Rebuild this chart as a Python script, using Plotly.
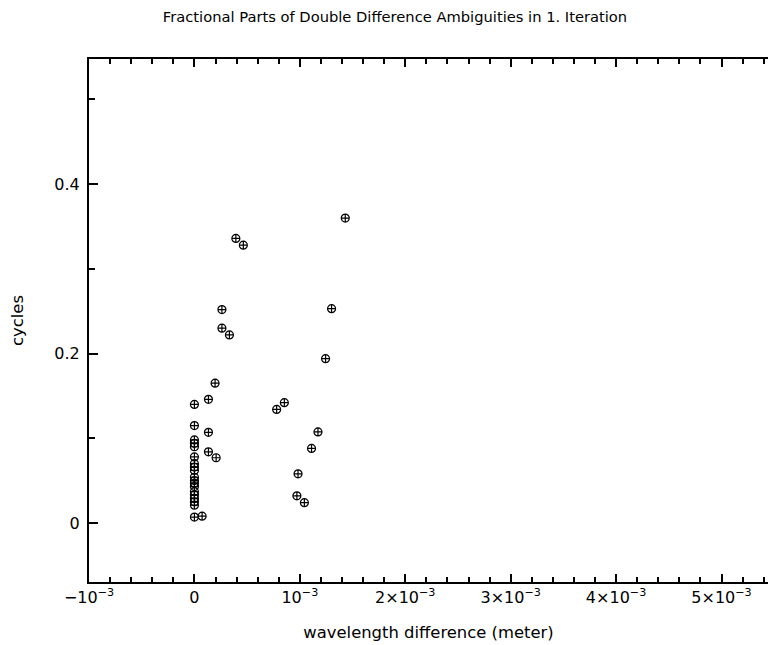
import plotly.graph_objects as go

# Wavelength difference (meter) and fractional part (cycles)
x_vals = [
    0.0, 0.0, 0.0, 0.0, 0.0, 0.0, 0.0, 0.0, 0.0, 0.0,
    0.0, 0.0, 0.0, 0.0, 0.0, 0.0, 0.0, 0.0, 0.0,
    0.133e-3, 0.133e-3, 0.133e-3, 0.206e-3, 0.073e-3, 0.196e-3,
    0.261e-3, 0.261e-3, 0.332e-3, 0.393e-3, 0.464e-3,
    1.431e-3, 1.301e-3, 1.244e-3, 0.853e-3, 0.780e-3,
    1.172e-3, 1.111e-3, 0.983e-3, 0.972e-3, 1.043e-3,
]
y_vals = [
    0.140, 0.115, 0.098, 0.094, 0.090, 0.078, 0.070, 0.066, 0.062, 0.054,
    0.050, 0.047, 0.043, 0.037, 0.033, 0.029, 0.025, 0.021, 0.007,
    0.146, 0.107, 0.084, 0.077, 0.008, 0.165,
    0.252, 0.230, 0.222, 0.336, 0.328,
    0.360, 0.253, 0.194, 0.142, 0.134,
    0.1075, 0.088, 0.058, 0.032, 0.024,
]

x_tickvals = [-1e-3, 0, 1e-3, 2e-3, 3e-3, 4e-3, 5e-3]
x_ticktext = ["\u221210<sup>\u22123</sup>", "0", "10<sup>\u22123</sup>",
              "2\u00d710<sup>\u22123</sup>", "3\u00d710<sup>\u22123</sup>",
              "4\u00d710<sup>\u22123</sup>", "5\u00d710<sup>\u22123</sup>"]
y_tickvals = [0, 0.2, 0.4]
y_ticktext = ["0", "0.2", "0.4"]

FONT = "DejaVu Sans"

fig = go.Figure()
fig.add_trace(go.Scatter(
    x=x_vals, y=y_vals, mode="markers",
    marker=dict(symbol="circle-cross-open", size=8, color="black",
                line=dict(color="black", width=1.2)),
    showlegend=False,
))

fig.update_layout(
    width=768, height=645,
    margin=dict(l=89, r=0, t=59, b=63),
    paper_bgcolor="white", plot_bgcolor="white",
    font=dict(family=FONT, color="black", size=16),
    title=dict(text="Fractional Parts of Double Difference Ambiguities in 1. Iteration",
               font=dict(family=FONT, size=14.7, color="black"),
               x=395 / 768, xanchor="center", xref="container",
               y=1 - 17 / 645, yanchor="middle", yref="container"),
)

fig.update_xaxes(
    range=[-1e-3, 5.441e-3],
    showgrid=False, zeroline=False,
    showline=True, linecolor="black", linewidth=2, mirror="ticks",
    ticks="inside", ticklen=8, tickwidth=2, tickcolor="black",
    tickvals=x_tickvals, ticktext=x_ticktext,
    tickfont=dict(family=FONT, size=16, color="black"),
    minor=dict(dtick=0.2e-3, tick0=0, ticks="inside", ticklen=5,
               tickwidth=2, tickcolor="black", showgrid=False),
    title=dict(text="wavelength difference (meter)",
               font=dict(family=FONT, size=16.4, color="black"), standoff=20),
)

fig.update_yaxes(
    range=[-0.0697, 0.5478],
    showgrid=False, zeroline=False,
    showline=True, linecolor="black", linewidth=2, mirror=False,
    ticks="inside", ticklen=9, tickwidth=2, tickcolor="black",
    tickvals=y_tickvals, ticktext=y_ticktext,
    tickfont=dict(family=FONT, size=16, color="black"),
    ticklabelstandoff=4,
    minor=dict(dtick=0.1, tick0=0, ticks="inside", ticklen=6,
               tickwidth=2, tickcolor="black", showgrid=False),
    title=dict(text="cycles", font=dict(family=FONT, size=16.4, color="black"),
               standoff=27),
)

fig.write_html("out.html")
